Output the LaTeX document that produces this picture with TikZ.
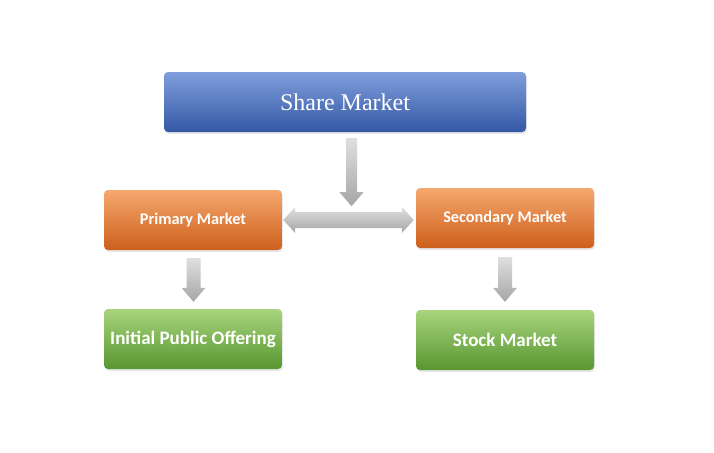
\documentclass[tikz,border=0pt]{standalone}
\usepackage{fontspec}
\setmainfont{Liberation Serif}
\setsansfont{Carlito}
\usetikzlibrary{calc,shadows}
\definecolor{blueTop}{RGB}{128,158,220}
\definecolor{blueBot}{RGB}{52,88,165}
\definecolor{orangeTop}{RGB}{245,168,110}
\definecolor{orangeBot}{RGB}{205,95,28}
\definecolor{greenTop}{RGB}{168,212,125}
\definecolor{greenBot}{RGB}{88,150,48}
\tikzset{
  box/.style={rectangle,rounded corners=4pt,inner sep=0pt,minimum width=178pt,
    minimum height=60pt,text=white,
    drop shadow={opacity=0.18,shadow xshift=1pt,shadow yshift=-2pt}},
  bluebox/.style={box,top color=blueTop,bottom color=blueBot},
  orangebox/.style={box,top color=orangeTop,bottom color=orangeBot,
    font=\sffamily\bfseries\fontsize{16.3}{19}\selectfont},
  greenbox/.style={box,top color=greenTop,bottom color=greenBot,
    font=\sffamily\bfseries\fontsize{19}{22}\selectfont},
  grayarrow/.style={top color=gray!25,bottom color=gray!70}
}
\begin{document}
\begin{tikzpicture}[x=1pt,y=-1pt]
  \useasboundingbox[fill=white] (0,0) rectangle (714,452);
  % boxes
  \node[bluebox,minimum width=362pt,font=\fontsize{24}{28}\selectfont]
       (share) at (345,102) {Share Market};
  \node[orangebox] (primary) at (193,220) {Primary Market};
  \node[orangebox] (secondary) at (505,218) {Secondary Market};
  \node[greenbox] (ipo) at (193,339) {Initial Public Offering};
  \node[greenbox] (stock) at (505,340) {Stock Market};
  % arrow ends
  \coordinate (s1) at ($(share.south)+(6.5,6)$);
  \coordinate (e1) at ($(share.south)+(6.5,74)$);
  \coordinate (s2) at ($(primary.south)+(0.5,8)$);
  \coordinate (e2) at ($(ipo.north)+(0.5,-7)$);
  \coordinate (s3) at ($(secondary.south)+(0,9)$);
  \coordinate (e3) at ($(stock.north)+(0,-8)$);
  \foreach \a/\b/\w in {s1/e1/5.5,s2/e2/7,s3/e3/7}
    \path[grayarrow] let \p1=(\a), \p2=(\b) in
      (\x1-\w pt,\y1) -- (\x1+\w pt,\y1) -- (\x1+\w pt,\y2+14pt)
      -- (\x1+12pt,\y2+14pt) -- (\x2,\y2) -- (\x1-12pt,\y2+14pt)
      -- (\x1-\w pt,\y2+14pt) -- cycle;
  % two-way arrow
  \path[grayarrow] let \p1=($(primary.east)+(1,0)$), \p2=($(secondary.west)+(-2,0)$) in
    (\x1,\y1) -- (\x1+12pt,\y1+13pt) -- (\x1+12pt,\y1+8pt) -- (\x2-12pt,\y1+8pt)
    -- (\x2-12pt,\y1+13pt) -- (\x2,\y1) -- (\x2-12pt,\y1-13pt) -- (\x2-12pt,\y1-8pt)
    -- (\x1+12pt,\y1-8pt) -- (\x1+12pt,\y1-13pt) -- cycle;
\end{tikzpicture}
\end{document}
